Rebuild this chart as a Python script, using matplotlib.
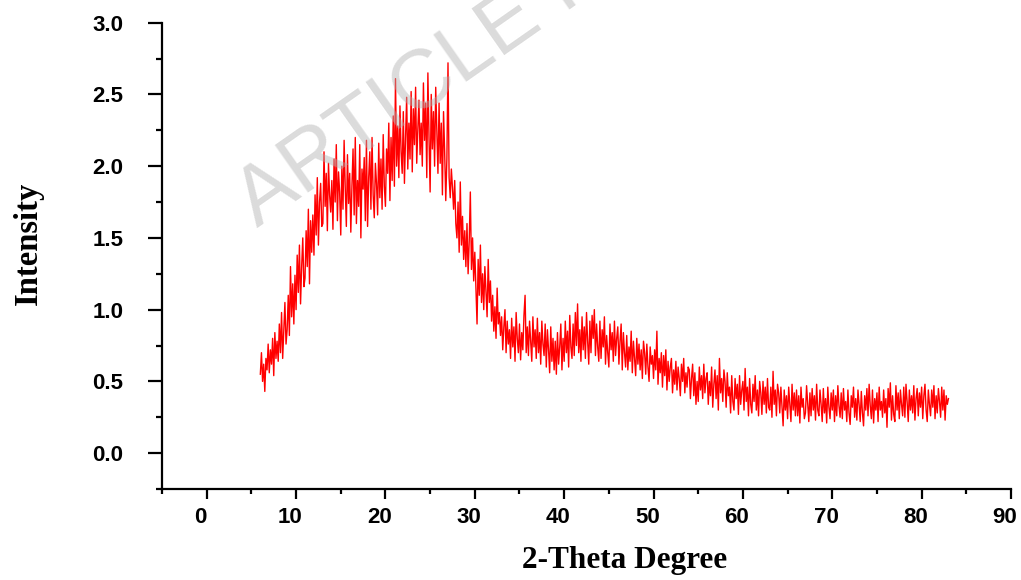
import matplotlib.pyplot as plt
from matplotlib.ticker import MultipleLocator
from matplotlib.transforms import ScaledTranslation

import numpy as np

# XRD scan, 2-theta from 6 to 83 degrees in 0.125 degree steps
theta_start = 6.0
theta_step = 0.125

# intensity, eight readings per degree
intensity = [
    0.55, 0.70, 0.50, 0.62, 0.43, 0.66, 0.58, 0.76,  # 6
    0.56, 0.72, 0.62, 0.80, 0.54, 0.84, 0.66, 0.78,  # 7
    0.64, 0.90, 0.70, 0.98, 0.66, 0.85, 1.05, 0.76,  # 8
    0.86, 1.10, 0.82, 1.30, 0.95, 1.18, 0.90, 1.24,  # 9
    1.00, 1.38, 1.12, 1.45, 1.04, 1.30, 1.50, 1.16,  # 10
    1.22, 1.55, 1.30, 1.70, 1.18, 1.62, 1.40, 1.66,  # 11
    1.38, 1.80, 1.52, 1.92, 1.45, 1.75, 1.88, 1.58,  # 12
    1.60, 2.10, 1.72, 1.95, 1.55, 2.02, 1.80, 1.68,  # 13
    1.90, 1.56, 2.05, 1.75, 2.15, 1.62, 1.96, 1.82,  # 14
    1.52, 2.00, 1.70, 2.18, 1.85, 1.58, 2.08, 1.74,  # 15
    1.95, 1.54, 1.86, 2.12, 1.66, 2.20, 1.60, 1.90,  # 16
    1.72, 2.15, 1.50, 1.98, 1.84, 2.06, 1.62, 2.18,  # 17
    1.58, 1.92, 2.10, 1.70, 2.20, 1.80, 1.64, 2.02,  # 18
    1.88, 1.66, 2.16, 1.78, 2.05, 1.70, 2.22, 1.86,  # 19
    1.72, 2.12, 1.95, 2.30, 1.76, 2.20, 1.90, 2.35,  # 20
    1.86, 2.61, 2.00, 2.28, 1.92, 2.42, 2.10, 1.95,  # 21
    2.38, 1.88, 2.20, 2.48, 1.98, 2.30, 2.05, 2.52,  # 22
    1.96, 2.40, 2.15, 2.55, 2.02, 2.26, 2.46, 2.08,  # 23
    2.30, 2.00, 2.58, 2.18, 2.44, 1.92, 2.65, 2.20,  # 24
    1.82, 2.50, 2.12, 2.38, 2.00, 2.55, 2.25, 1.95,  # 25
    2.44, 2.02, 2.30, 1.80, 2.38, 2.10, 1.76, 2.05,  # 26
    2.72, 1.92, 1.78, 1.98, 1.85, 1.70, 1.90, 1.60,  # 27
    1.50, 1.75, 1.40, 1.89, 1.45, 1.65, 1.35, 1.55,  # 28
    1.30, 1.60, 1.25, 1.48, 1.82, 1.28, 1.50, 1.20,  # 29
    1.40, 1.15, 0.90, 1.35, 1.10, 1.45, 1.05, 1.25,  # 30
    1.00, 1.30, 1.12, 0.95, 1.35, 1.05, 1.20, 0.92,  # 31
    1.10, 0.85, 1.02, 0.80, 1.15, 0.90, 0.98, 0.82,  # 32
    0.95, 0.72, 0.88, 1.00, 0.70, 0.92, 0.76, 0.86,  # 33
    0.66, 0.94, 0.74, 0.88, 0.64, 0.98, 0.80, 0.70,  # 34
    0.90, 0.65, 0.84, 0.72, 0.96, 1.10, 0.70, 0.88,  # 35
    0.68, 0.92, 0.78, 0.64, 0.95, 0.74, 0.86, 0.66,  # 36
    0.94, 0.70, 0.84, 0.62, 0.92, 0.76, 0.68, 0.90,  # 37
    0.60, 0.86, 0.72, 0.56, 0.88, 0.64, 0.80, 0.58,  # 38
    0.78, 0.55, 0.84, 0.62, 0.74, 0.90, 0.58, 0.80,  # 39
    0.64, 0.92, 0.70, 0.85, 0.60, 0.96, 0.74, 0.66,  # 40
    0.90, 0.68, 0.98, 0.75, 1.04, 0.70, 0.86, 0.64,  # 41
    0.95, 0.72, 0.88, 0.66, 0.98, 0.78, 0.62, 0.92,  # 42
    0.70, 0.96, 0.80, 1.00, 0.68, 0.90, 0.74, 0.64,  # 43
    0.92, 0.66, 0.86, 0.74, 0.95, 0.62, 0.82, 0.70,  # 44
    0.60, 0.90, 0.72, 0.84, 0.64, 0.92, 0.68, 0.80,  # 45
    0.88, 0.62, 0.78, 0.90, 0.58, 0.84, 0.70, 0.60,  # 46
    0.82, 0.58, 0.74, 0.64, 0.85, 0.56, 0.78, 0.66,  # 47
    0.54, 0.80, 0.62, 0.76, 0.58, 0.72, 0.52, 0.78,  # 48
    0.70, 0.55, 0.76, 0.60, 0.50, 0.74, 0.62, 0.68,  # 49
    0.52, 0.72, 0.58, 0.85, 0.48, 0.66, 0.56, 0.70,  # 50
    0.46, 0.68, 0.54, 0.72, 0.44, 0.64, 0.50, 0.60,  # 51
    0.66, 0.42, 0.58, 0.48, 0.64, 0.44, 0.60, 0.52,  # 52
    0.40, 0.62, 0.50, 0.66, 0.42, 0.56, 0.46, 0.60,  # 53
    0.58, 0.38, 0.52, 0.62, 0.40, 0.56, 0.34, 0.50,  # 54
    0.36, 0.60, 0.44, 0.54, 0.38, 0.62, 0.42, 0.52,  # 55
    0.56, 0.34, 0.50, 0.40, 0.60, 0.32, 0.48, 0.58,  # 56
    0.38, 0.54, 0.30, 0.66, 0.42, 0.52, 0.36, 0.58,  # 57
    0.50, 0.32, 0.56, 0.40, 0.46, 0.28, 0.54, 0.36,  # 58
    0.30, 0.52, 0.38, 0.48, 0.27, 0.54, 0.34, 0.44,  # 59
    0.50, 0.30, 0.59, 0.36, 0.46, 0.26, 0.52, 0.34,  # 60
    0.28, 0.48, 0.36, 0.54, 0.30, 0.44, 0.26, 0.50,  # 61
    0.42, 0.27, 0.50, 0.34, 0.46, 0.28, 0.52, 0.32,  # 62
    0.30, 0.46, 0.25, 0.57, 0.34, 0.44, 0.26, 0.48,  # 63
    0.42, 0.28, 0.46, 0.32, 0.19, 0.44, 0.30, 0.40,  # 64
    0.24, 0.46, 0.34, 0.22, 0.48, 0.30, 0.42, 0.26,  # 65
    0.44, 0.26, 0.40, 0.21, 0.46, 0.32, 0.38, 0.24,  # 66
    0.28, 0.47, 0.34, 0.22, 0.42, 0.26, 0.45, 0.30,  # 67
    0.40, 0.23, 0.48, 0.30, 0.26, 0.44, 0.34, 0.22,  # 68
    0.45, 0.28, 0.38, 0.21, 0.46, 0.32, 0.24, 0.42,  # 69
    0.30, 0.44, 0.22, 0.40, 0.26, 0.47, 0.33, 0.25,  # 70
    0.42, 0.24, 0.45, 0.30, 0.36, 0.22, 0.44, 0.28,  # 71
    0.20, 0.40, 0.32, 0.46, 0.25, 0.38, 0.23, 0.44,  # 72
    0.34, 0.22, 0.43, 0.28, 0.19, 0.40, 0.30, 0.45,  # 73
    0.26, 0.48, 0.33, 0.24, 0.44, 0.21, 0.38, 0.30,  # 74
    0.42, 0.22, 0.46, 0.30, 0.36, 0.25, 0.44, 0.28,  # 75
    0.38, 0.18, 0.45, 0.32, 0.49, 0.23, 0.40, 0.27,  # 76
    0.22, 0.47, 0.30, 0.42, 0.24, 0.44, 0.34, 0.26,  # 77
    0.46, 0.25, 0.48, 0.36, 0.22, 0.44, 0.30, 0.40,  # 78
    0.28, 0.47, 0.23, 0.38, 0.45, 0.26, 0.42, 0.32,  # 79
    0.46, 0.24, 0.40, 0.48, 0.30, 0.22, 0.44, 0.34,  # 80
    0.26, 0.44, 0.32, 0.47, 0.24, 0.40, 0.28, 0.45,  # 81
    0.36, 0.25, 0.46, 0.30, 0.44, 0.23, 0.40, 0.34,  # 82
    0.38,                                            # 83
]

two_theta = theta_start + theta_step * np.arange(len(intensity))

x_ticks = [0, 10, 20, 30, 40, 50, 60, 70, 80, 90]
y_ticks = [0.0, 0.5, 1.0, 1.5, 2.0, 2.5, 3.0]

fig = plt.figure(figsize=(10.21, 5.80), dpi=100)
ax = fig.add_axes([0.1587, 0.1569, 0.8315, 0.804])

ax.plot(two_theta, intensity, color="red", linewidth=1.0)

ax.set_xlim(-5, 90)
ax.set_ylim(-0.25, 3.0)
ax.set_xticks(x_ticks)
ax.set_yticks(y_ticks)
ax.xaxis.set_minor_locator(MultipleLocator(5))
ax.yaxis.set_minor_locator(MultipleLocator(0.25))
ax.set_yticklabels([f"{v:.1f}" for v in y_ticks])

# Origin-like axes: only left and bottom, ticks outward
for side in ["top", "right"]:
    ax.spines[side].set_visible(False)
for side in ["left", "bottom"]:
    ax.spines[side].set_linewidth(1.6)

ax.tick_params(axis="x", which="major", direction="out", length=7, width=1.6, pad=6)
ax.tick_params(axis="x", which="minor", direction="out", length=3.5, width=1.6)
ax.tick_params(axis="y", which="major", direction="out", length=10, width=1.6, pad=18)
ax.tick_params(axis="y", which="minor", direction="out", length=4.5, width=1.6)

for lbl in ax.get_xticklabels() + ax.get_yticklabels():
    lbl.set_fontfamily("Liberation Sans")
    lbl.set_fontweight("bold")
    lbl.set_fontsize(16)

# x tick labels sit a few pixels left of their ticks in the original
shift = ScaledTranslation(-6 / 100, 0, fig.dpi_scale_trans)
for lbl in ax.get_xticklabels():
    lbl.set_transform(lbl.get_transform() + shift)

ax.set_xlabel("2-Theta Degree", fontfamily="Liberation Serif", fontweight="bold", fontsize=22.5)
ax.set_ylabel("Intensity", fontfamily="Liberation Serif", fontweight="bold", fontsize=23.5)
ax.xaxis.set_label_coords(0.545, -0.122)
ax.yaxis.set_label_coords(-0.139, 0.527)

# watermark of the source page
fig.text(0.252, 0.607, "ARTICLE IN PRESS", fontfamily="Liberation Sans", fontsize=60,
         color="#b0b0b0", alpha=0.45, rotation=35, rotation_mode="anchor",
         ha="left", va="baseline", zorder=10)

plt.savefig("out.png", dpi=100)
